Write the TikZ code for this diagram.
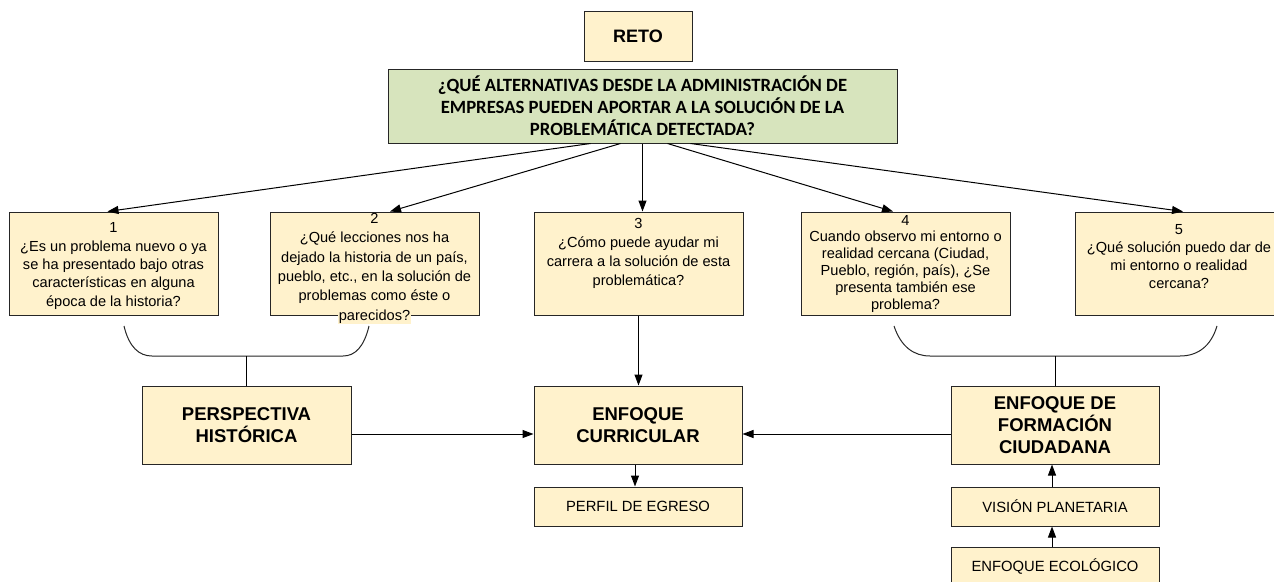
\documentclass[tikz,border=0pt]{standalone}
\usepackage{fontspec}
\setmainfont{Liberation Sans}
\newfontfamily\calibfont{Carlito}
\usetikzlibrary{arrows.meta}
\definecolor{yfill}{HTML}{FFF2CC}
\definecolor{gfill}{HTML}{D7E4BD}
\definecolor{edgecol}{HTML}{262626}
\begin{document}
\begin{tikzpicture}[x=1pt,y=-1pt,
  boxbase/.style={draw=edgecol, line width=1pt, inner sep=0pt, anchor=center},
  ybox/.style={boxbase, fill=yfill},
  qbox/.style={ybox, minimum width=209pt, minimum height=103pt},
  qtext/.style={align=center, inner sep=0pt, text=black, font=\fontsize{14.6}{#1}\selectfont},
  bigbox/.style={ybox, minimum width=209pt, minimum height=78pt, align=center, font=\fontsize{18.5}{21.8}\selectfont\bfseries},
  smallbox/.style={ybox, minimum width=209pt, minimum height=39pt, font=\fontsize{14.8}{17}\selectfont},
  arr/.style={draw=black, line width=1pt, -{Triangle[length=11pt,width=8pt]}},
  conn/.style={draw=black, line width=1pt},
  bracket/.style={draw=edgecol, line width=1pt}]
\useasboundingbox (0,0) rectangle (1274,581);
\fill[white] (0,0) rectangle (1274,581);

% top boxes
\node[ybox, minimum width=108pt, minimum height=50pt, font=\fontsize{18}{21}\selectfont\bfseries] (reto) at (638,36) {RETO};
\node[boxbase, fill=gfill, minimum width=509pt, minimum height=74pt, align=center,
      font=\calibfont\fontsize{18.7}{21.8}\selectfont\bfseries] (g) at (642.5,106)
  {¿QUÉ ALTERNATIVAS DESDE LA ADMINISTRACIÓN DE\\EMPRESAS PUEDEN APORTAR A LA SOLUCIÓN DE LA\\PROBLEMÁTICA DETECTADA?};

% question boxes
\node[qbox] (b1) at (113.5,263.5) {};
\node[qbox] (b2) at (374.5,263.5) {};
\node[qbox] (b3) at (638.5,263.5) {};
\node[qbox] (b4) at (905.5,263.5) {};
\node[qbox] (b5) at (1179.5,263.5) {};

\node[qtext=18.3] (t1) at (113.5,266) {1\\¿Es un problema nuevo o ya\\se ha presentado bajo otras\\características en alguna\\época de la historia?};
\node[qtext=19.3] (t2) at (374.5,268.5) {2\\¿Qué lecciones nos ha\\dejado la historia de un país,\\pueblo, etc., en la solución de\\problemas como éste o\\{\setlength{\fboxsep}{0.5pt}\colorbox{yfill}{parecidos?}}};
\node[qtext=19] (t3) at (638.5,253.5) {3\\¿Cómo puede ayudar mi\\carrera a la solución de esta\\problemática?};
\node[qtext=16.8] (t4) at (905.5,263.5) {4\\Cuando observo mi entorno o\\realidad cercana (Ciudad,\\Pueblo, región, país), ¿Se\\presenta también ese\\problema?};
\node[qtext=18.3] (t5) at (1179,256.5) {5\\¿Qué solución puedo dar de\\mi entorno o realidad\\cercana?};

% lower boxes
\node[bigbox] (ph) at (246.5,425) {PERSPECTIVA\\HISTÓRICA};
\node[bigbox, minimum width=208pt] (ec) at (638,425) {ENFOQUE\\CURRICULAR};
\node[bigbox, minimum width=208pt] (ef) at (1055,425) {ENFOQUE DE\\FORMACIÓN\\CIUDADANA};
\node[smallbox, minimum width=208pt] (pe) at (638,506.5) {PERFIL DE EGRESO};
\node[smallbox, minimum width=208pt] (vp) at (1055,506.5) {VISIÓN PLANETARIA};
\node[smallbox, minimum width=208pt] (eco) at (1055,566.5) {ENFOQUE ECOLÓGICO};

% arrows from the challenge
\draw[arr] ([xshift=-52pt]g.south) -- ([xshift=-6pt]b1.north);
\draw[arr] ([xshift=-22pt]g.south) -- ([xshift=15.5pt]b2.north);
\draw[arr] (g.south) -- (g.south |- b3.north);
\draw[arr] ([xshift=25pt]g.south) -- ([xshift=-12.5pt]b4.north);
\draw[arr] ([xshift=48pt]g.south) -- ([xshift=3.5pt]b5.north);

% brackets
\draw[bracket] (124,326) .. controls (129,347) and (139,356) .. (152,356) -- (343,356)
  .. controls (355,356) and (364,347) .. (369,326);
\coordinate (lb) at (246.5,356);
\draw[conn] (lb) -- (ph.north);
\draw[bracket] (894,326) .. controls (901,347) and (914,356) .. (930,356) -- (1180,356)
  .. controls (1198,356) and (1211,346) .. (1217,326);
\coordinate (rb) at (1055,356);
\draw[conn] (rb) -- (ef.north);

% other connectors
\draw[arr] (b3.south) -- (b3.south |- ec.north);
\draw[arr] ([yshift=-9pt]ph.east) -- ([yshift=-9pt]ec.west);
\draw[arr] ([yshift=-9pt]ef.west) -- ([yshift=-9pt]ec.east);
\draw[arr] ([xshift=-3pt]ec.south) -- ([xshift=-3pt]pe.north);
\draw[arr] ([xshift=-3pt]vp.north) -- ([xshift=-3pt]ef.south);
\draw[arr] ([xshift=-3pt]eco.north) -- ([xshift=-3pt]vp.south);
\end{tikzpicture}
\end{document}
